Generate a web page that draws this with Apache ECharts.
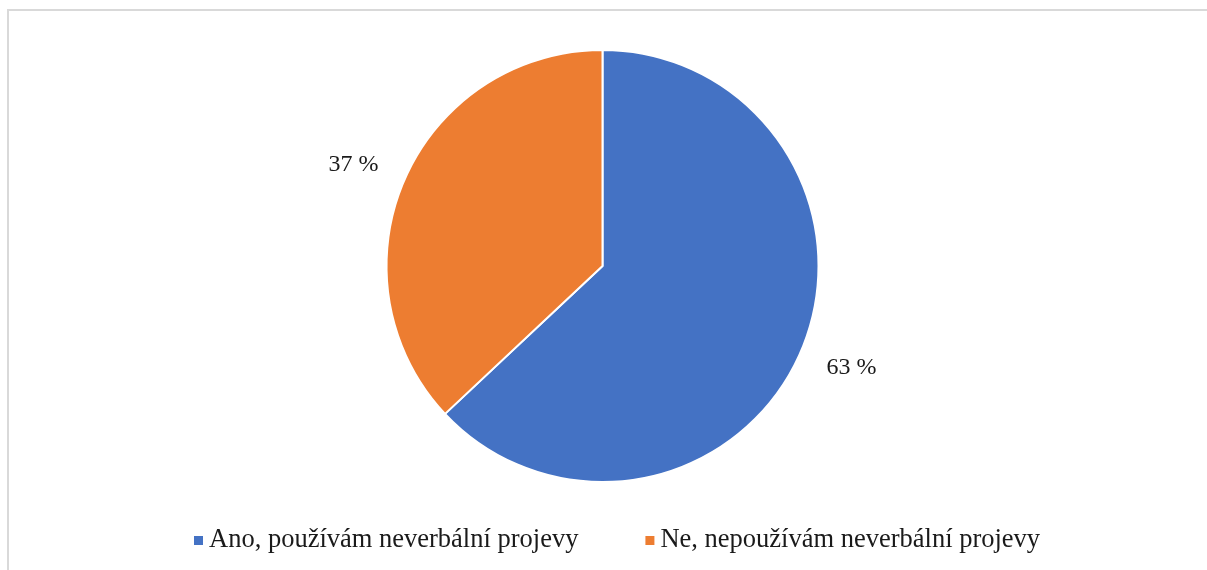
<!DOCTYPE html>
<html>
<head>
<meta charset="utf-8">
<script src="https://cdn.jsdelivr.net/npm/echarts@6/dist/echarts.min.js"></script>
<style>
html,body{margin:0;padding:0;background:#fff;}
#chart{width:1207px;height:570px;}
</style>
</head>
<body>
<div id="chart"></div>
<script>
const categories = ['Ano, používám neverbální projevy', 'Ne, nepoužívám neverbální projevy'];
const values = [63, 37];
const colors = ['#4472C4', '#ED7D31'];

const data = categories.map((name, i) => ({ name: name, value: values[i], itemStyle: { color: colors[i] } }));

const chart = echarts.init(document.getElementById('chart'));
chart.setOption({
  animation: false,
  backgroundColor: '#ffffff',
  graphic: [{
    type: 'rect',
    shape: { x: 8, y: 10, width: 1250, height: 600 },
    style: { fill: 'none', stroke: '#d9d9d9', lineWidth: 2 },
    silent: true
  }],
  legend: {
    data: categories,
    left: 187,
    top: 522,
    itemWidth: 11,
    itemHeight: 11,
    itemGap: 65,
    icon: 'rect',
    textStyle: { fontFamily: 'Liberation Serif', fontSize: 26.5, color: '#1a1a1a', padding: [0, 0, 0, 0] }
  },
  series: [
    {
      type: 'pie',
      center: [602.5, 266],
      radius: [0, 216],
      startAngle: 90,
      clockwise: true,
      data: data,
      itemStyle: { borderColor: '#ffffff', borderWidth: 2 },
      label: { show: false },
      labelLine: { show: false },
      emphasis: { disabled: true }
    },
    {
      type: 'pie',
      center: [602.5, 266],
      radius: [0, 532],
      startAngle: 91.2,
      clockwise: true,
      silent: true,
      z: 1,
      legendHoverLink: false,
      data: categories.map((name, i) => ({ name: name, value: values[i] })),
      itemStyle: { color: 'rgba(0,0,0,0)', borderWidth: 0 },
      label: {
        show: true,
        position: 'inside',
        formatter: '{c} %',
        fontFamily: 'Liberation Serif',
        fontSize: 24,
        color: '#1a1a1a'
      },
      labelLine: { show: false },
      emphasis: { disabled: true }
    }
  ]
});
</script>
</body>
</html>
